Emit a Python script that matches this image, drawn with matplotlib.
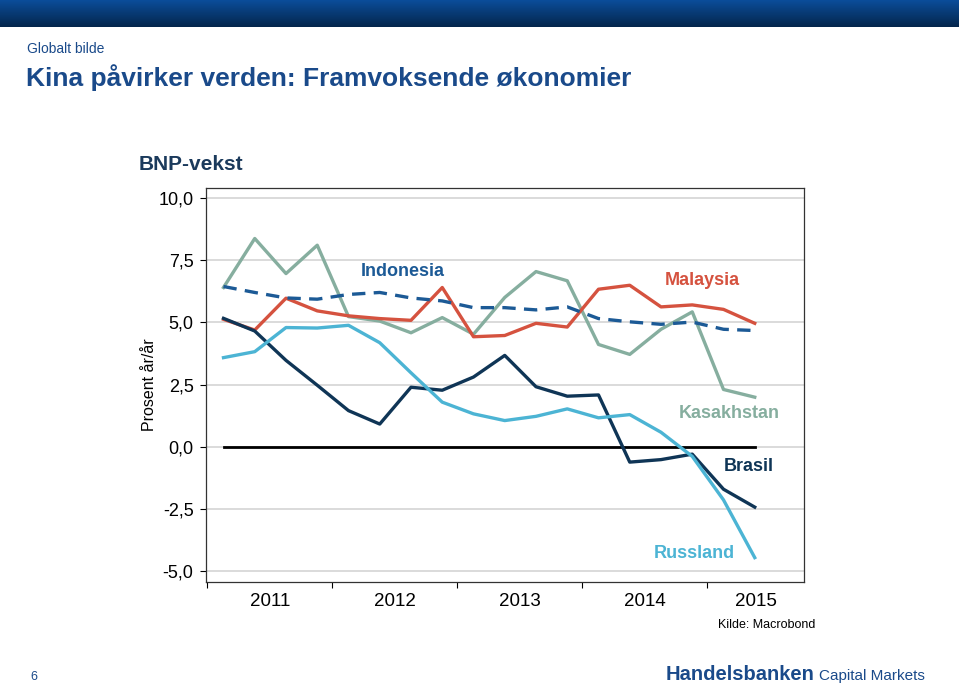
import numpy as np
import matplotlib
matplotlib.use("Agg")
import matplotlib.pyplot as plt
from matplotlib.ticker import FixedLocator, FixedFormatter, FuncFormatter

plt.rcParams['font.family'] = ['Liberation Sans', 'DejaVu Sans']

# kvartalsdata, 1. kv. 2011 - 2. kv. 2015 (BNP-vekst, prosent år/år)
quarters = 2011.13 + 0.25 * np.arange(18)
kasakhstan = [6.40, 8.37, 6.96, 8.10, 5.23, 5.05, 4.58, 5.19, 4.52, 6.00,
              7.04, 6.67, 4.11, 3.71, 4.72, 5.42, 2.30, 1.99]
indonesia = [6.44, 6.20, 5.98, 5.93, 6.12, 6.20, 5.98, 5.86, 5.59, 5.59,
             5.50, 5.62, 5.15, 5.02, 4.92, 5.01, 4.72, 4.67]
malaysia = [5.12, 4.69, 5.97, 5.46, 5.26, 5.15, 5.08, 6.40, 4.42, 4.47,
            4.96, 4.81, 6.33, 6.49, 5.62, 5.70, 5.52, 4.96]
brasil = [5.16, 4.65, 3.47, 2.47, 1.45, 0.91, 2.39, 2.27, 2.80, 3.67,
          2.41, 2.03, 2.08, -0.62, -0.52, -0.30, -1.71, -2.43]
russland = [3.58, 3.82, 4.79, 4.77, 4.88, 4.18, 2.97, 1.79, 1.32, 1.05,
            1.22, 1.52, 1.16, 1.29, 0.58, -0.39, -2.14, -4.46]

years = [2011, 2012, 2013, 2014, 2015]
yticks = [-5.0, -2.5, 0.0, 2.5, 5.0, 7.5, 10.0]

c_kas = '#86ae9f'
c_ind = '#1c5a96'
c_mal = '#d5523f'
c_bra = '#0f3556'
c_rus = '#4cb4d4'
c_title = '#1a4a8a'

fig = plt.figure(figsize=(9.59, 6.86), dpi=100)

# topp-banner med gradient
bar = fig.add_axes([0, 1 - 27 / 686, 1, 27 / 686])
grad = np.linspace(0, 1, 50).reshape(-1, 1)
cmap = matplotlib.colors.LinearSegmentedColormap.from_list('b', ['#0b4d9a', '#04264c'])
bar.imshow(grad, aspect='auto', cmap=cmap, extent=[0, 1, 0, 1])
bar.axis('off')

fig.text(27 / 959, 1 - 49 / 686, 'Globalt bilde', fontsize=10, color=c_title, va='center')
fig.text(26 / 959, 1 - 78 / 686, 'Kina påvirker verden: Framvoksende økonomier',
         fontsize=19, fontweight='bold', color=c_title, va='center')
fig.text(139 / 959, 1 - 165 / 686, 'BNP-vekst', fontsize=15, fontweight='bold',
         color='#1b3a5c', va='center')

ax = fig.add_axes([206 / 959, 1 - 582 / 686, 598 / 959, 394 / 686])
ax.set_xlim(2010.99, 2015.774)
ax.set_ylim(-5.44, 10.4)

for v in yticks:
    ax.axhline(v, color='#d4d4d4', lw=1.2, zorder=0)

ax.plot([quarters[0], quarters[-1]], [0, 0], color='black', lw=2, zorder=1)
ax.plot(quarters, kasakhstan, color=c_kas, lw=2.4, zorder=2)
ax.plot(quarters, malaysia, color=c_mal, lw=2.4, zorder=3)
ax.plot(quarters, indonesia, color=c_ind, lw=2.4, ls=(0, (4, 2.5)), zorder=4)
ax.plot(quarters, brasil, color=c_bra, lw=2.4, zorder=5)
ax.plot(quarters, russland, color=c_rus, lw=2.4, zorder=6)

lab = dict(fontsize=13, fontweight='bold', ha='center', va='center')
ax.text(2012.566, 7.06, 'Indonesia', color=c_ind, **lab)
ax.text(2014.958, 6.69, 'Malaysia', color=c_mal, **lab)
ax.text(2015.174, 1.33, 'Kasakhstan', color=c_kas, **lab)
ax.text(2015.334, -0.81, 'Brasil', color=c_bra, **lab)
ax.text(2014.894, -4.31, 'Russland', color=c_rus, **lab)

ax.yaxis.set_major_locator(FixedLocator(yticks))
ax.yaxis.set_major_formatter(FuncFormatter(lambda v, p: f'{v:.1f}'.replace('.', ',')))
ax.tick_params(axis='y', labelsize=13, length=4, width=0.8, pad=5)

ax.xaxis.set_major_locator(FixedLocator(years))
ax.xaxis.set_major_formatter(FuncFormatter(lambda v, p: ''))
label_pos = [y + 0.5 for y in years[:-1]] + [(2015 + 2015.774) / 2]
ax.xaxis.set_minor_locator(FixedLocator(label_pos))
ax.xaxis.set_minor_formatter(FixedFormatter([str(y) for y in years]))
ax.tick_params(axis='x', which='major', length=4, width=0.8)
ax.tick_params(axis='x', which='minor', length=0, labelsize=13.5, pad=8)

for s in ax.spines.values():
    s.set_color('#333333')
    s.set_linewidth(0.9)

ax.set_ylabel('Prosent år/år', fontsize=11.5)
ax.yaxis.set_label_coords(-0.082, 0.5)

fig.text(815 / 959, 1 - 625 / 686, 'Kilde: Macrobond', fontsize=9, ha='right', va='center')
fig.text(30 / 959, 1 - 677 / 686, '6', fontsize=9, color=c_title, va='center')
fig.text(666 / 959, 1 - 675 / 686, 'Handelsbanken', fontsize=14.5, fontweight='bold',
         color=c_title, va='center')
fig.text(819 / 959, 1 - 676 / 686, 'Capital Markets', fontsize=11, color=c_title, va='center')

fig.savefig('out.png', dpi=100)
